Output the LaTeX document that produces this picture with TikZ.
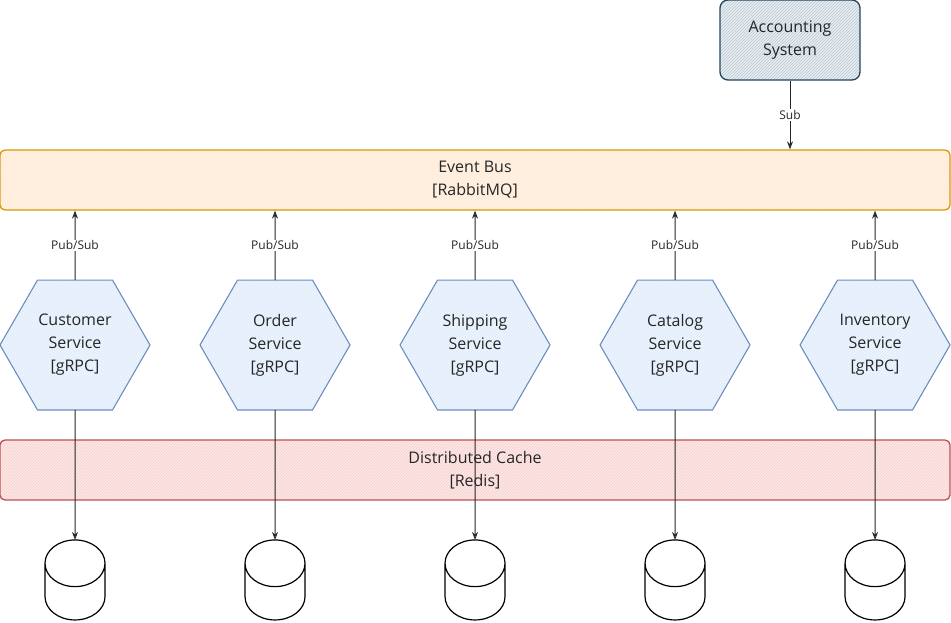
\documentclass[tikz,border=0pt]{standalone}
\usepackage{fontspec}
\setmainfont{Open Sans}
\usepackage{tikz}
\usetikzlibrary{positioning, arrows.meta, shapes, patterns}
\definecolor{busline}{HTML}{D79B00}
\definecolor{busfill}{HTML}{FFE6CC}
\definecolor{svcline}{HTML}{6C8EBF}
\definecolor{svcfill}{HTML}{DAE8FC}
\definecolor{cacheline}{HTML}{B85450}
\definecolor{cachefill}{HTML}{F8CECC}
\definecolor{acctline}{HTML}{23445D}
\definecolor{acctfill}{HTML}{BAC8D3}
\tikzset{
    txt/.style={align=center, font=\fontsize{16}{23}\selectfont, text=black!85},
    bar/.style={txt, rounded corners=5pt, line width=1.3pt, minimum width=950pt, minimum height=60pt},
    bus/.style={bar, draw=busline, preaction={fill=busfill!45}, pattern=north east lines, pattern color=busfill},
    cache/.style={bar, draw=cacheline, preaction={fill=cachefill!45}, pattern=north east lines, pattern color=cachefill},
    acct/.style={txt, rounded corners=8pt, line width=1.3pt, draw=acctline, minimum width=140pt, minimum height=80pt, preaction={fill=acctfill!35}, pattern=north east lines, pattern color=acctfill},
    svc/.style={txt, regular polygon, regular polygon sides=6, minimum size=150pt, inner sep=0pt, outer sep=0pt, draw=svcline, line width=1.1pt, preaction={fill=svcfill!45}, pattern=north east lines, pattern color=svcfill},
    db/.style={cylinder, shape border rotate=90, aspect=7, draw, line width=1.2pt, minimum width=60pt, minimum height=80pt, outer sep=0pt, fill=white},
    conn/.style={-{Stealth[open, length=8pt, width=6pt]}, line width=1pt, black!85},
    lbl/.style={fill=white, inner sep=1pt, font=\fontsize{12}{13}\selectfont},
}
\begin{document}
\begin{tikzpicture}[x=1pt, y=-1pt]
        \useasboundingbox (0,0) rectangle (951,622);

        \node [acct] (acc) at (790, 40) {Accounting\\System};
        \node [bus] (bus) at (475, 180) {Event Bus\\{[RabbitMQ]}};
        \node [cache] (cache) at (475, 470) {Distributed Cache\\{[Redis]}};

        \node [svc] (cust) at (75, 345) {Customer\\Service\\{[gRPC]}};
        \node [svc, right=50pt of cust] (ord) {Order\\Service\\{[gRPC]}};
        \node [svc, right=50pt of ord] (ship) {Shipping\\Service\\{[gRPC]}};
        \node [svc, right=50pt of ship] (cat) {Catalog\\Service\\{[gRPC]}};
        \node [svc, right=50pt of cat] (inv) {Inventory\\Service\\{[gRPC]}};

        \node [db, below=130pt of cust] (db1) {};
        \node [db, below=130pt of ord] (db2) {};
        \node [db, below=130pt of ship] (db3) {};
        \node [db, below=130pt of cat] (db4) {};
        \node [db, below=130pt of inv] (db5) {};

        \draw[conn] (acc) -- node[lbl] {Sub} (acc |- bus.north);

        \draw[conn] (cust) -- node[lbl] {Pub/Sub} (cust |- bus.south);
        \draw[conn] (ord) -- node[lbl] {Pub/Sub} (ord |- bus.south);
        \draw[conn] (ship) -- node[lbl] {Pub/Sub} (ship |- bus.south);
        \draw[conn] (cat) -- node[lbl] {Pub/Sub} (cat |- bus.south);
        \draw[conn] (inv) -- node[lbl] {Pub/Sub} (inv |- bus.south);

        \draw[conn] (cust) -- (db1.north);
        \draw[conn] (ord) -- (db2.north);
        \draw[conn] (ship) -- (db3.north);
        \draw[conn] (cat) -- (db4.north);
        \draw[conn] (inv) -- (db5.north);
\end{tikzpicture}
\end{document}
